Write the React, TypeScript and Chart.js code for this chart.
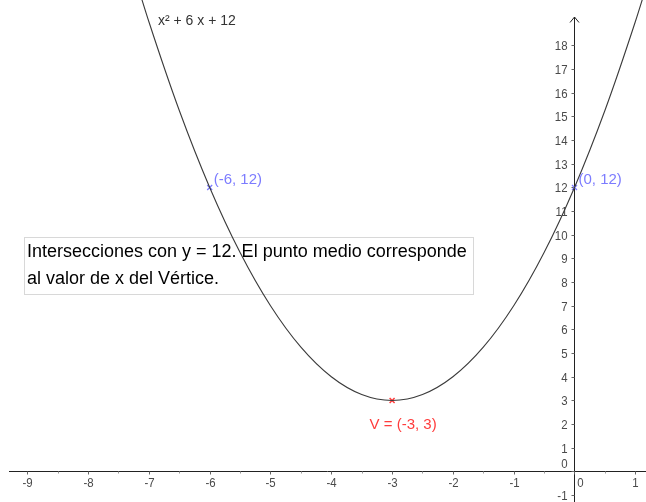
import React, { useEffect, useRef } from "react";
import { Chart, registerables } from "chart.js";

Chart.register(...registerables);

// Sampled points of f(x) = x² + 6x + 12
const curveX = [-7.2, -7, -6.5, -6, -5.5, -5, -4.5, -4, -3.5, -3, -2.5, -2, -1.5, -1, -0.5, 0, 0.5, 1, 1.2];
const curveY = [20.64, 19, 15.25, 12, 9.25, 7, 5.25, 4, 3.25, 3, 3.25, 4, 5.25, 7, 9.25, 12, 15.25, 19, 20.64];

const functionLabel = "x² + 6 x + 12";

// Intersections with y = 12
const intersectX = [-6, 0];
const intersectY = [12, 12];
const intersectLabels = ["(-6, 12)", "(0, 12)"];

// Vertex
const vertexX = [-3];
const vertexY = [3];
const vertexLabels = ["V = (-3, 3)"];

const xTicks = [-9, -8, -7, -6, -5, -4, -3, -2, -1, 0, 1];
const yTicks = [-1, 0, 1, 2, 3, 4, 5, 6, 7, 8, 9, 10, 11, 12, 13, 14, 15, 16, 17, 18];

const noteLines = [
  "Intersecciones con y = 12. El punto medio corresponde",
  "al valor de x del Vértice.",
];

const W = 646;
const H = 502;
const FONT = "'Liberation Sans', Arial, sans-serif";
const BLUE = "#7c7cff";
const RED = "#ff3c3c";

// draws a tick label slightly condensed horizontally
function tickText(ctx: CanvasRenderingContext2D, s: string, x: number, y: number) {
  ctx.save();
  ctx.translate(x, y);
  ctx.scale(0.88, 1);
  ctx.fillText(s, 0, 0);
  ctx.restore();
}

const axesPlugin = {
  id: "geoAxes",
  beforeDatasetsDraw(chart: any) {
    const ctx = chart.ctx as CanvasRenderingContext2D;
    const xs = chart.scales.x;
    const ys = chart.scales.y;
    const ox = Math.round(xs.getPixelForValue(0)) + 0.5;
    const oy = Math.round(ys.getPixelForValue(0)) + 0.5;
    ctx.save();

    // note box
    ctx.fillStyle = "rgba(255,255,255,0.85)";
    ctx.fillRect(24, 237, 449, 57);
    ctx.strokeStyle = "#d8d8d8";
    ctx.lineWidth = 1;
    ctx.strokeRect(24.5, 237.5, 449, 57);
    ctx.fillStyle = "#000";
    ctx.font = `18px ${FONT}`;
    ctx.textAlign = "left";
    ctx.textBaseline = "alphabetic";
    ctx.fillText(noteLines[0], 27, 257);
    ctx.fillText(noteLines[1], 27, 284);

    // axes
    ctx.strokeStyle = "#222";
    ctx.lineWidth = 1;
    ctx.beginPath();
    ctx.moveTo(9, oy);
    ctx.lineTo(W, oy);
    ctx.moveTo(ox, 17);
    ctx.lineTo(ox, H);
    ctx.stroke();
    // arrow on the y axis
    ctx.beginPath();
    ctx.moveTo(ox - 4.5, 22.5);
    ctx.lineTo(ox, 17);
    ctx.lineTo(ox + 4.5, 22.5);
    ctx.stroke();

    ctx.font = `13px ${FONT}`;
    ctx.fillStyle = "#4a4a4a";
    // x ticks
    ctx.textAlign = "center";
    ctx.textBaseline = "middle";
    xTicks.forEach((t) => {
      const px = Math.round(xs.getPixelForValue(t)) + 0.5;
      ctx.strokeStyle = "#666";
      ctx.beginPath();
      ctx.moveTo(px, oy);
      ctx.lineTo(px, oy + 3);
      ctx.stroke();
      const mx = Math.round(xs.getPixelForValue(t + 0.5)) + 0.5;
      if (t + 0.5 < xs.max) {
        ctx.strokeStyle = "#999";
        ctx.beginPath();
        ctx.moveTo(mx, oy);
        ctx.lineTo(mx, oy + 2);
        ctx.stroke();
      }
      const lx = t === 0 ? px + 6 : px;
      tickText(ctx, String(t), lx, oy + 12);
    });
    // y ticks
    ctx.textAlign = "right";
    yTicks.forEach((t) => {
      const py = Math.round(ys.getPixelForValue(t)) + 0.5;
      ctx.strokeStyle = "#666";
      ctx.beginPath();
      ctx.moveTo(ox - 3, py);
      ctx.lineTo(ox, py);
      ctx.stroke();
      const ly = t === 0 ? py - 7 : py + 1;
      tickText(ctx, String(t), ox - 7, ly);
    });
    ctx.restore();
  },
  afterDatasetsDraw(chart: any) {
    const ctx = chart.ctx as CanvasRenderingContext2D;
    const xs = chart.scales.x;
    const ys = chart.scales.y;
    ctx.save();
    ctx.font = `15px ${FONT}`;
    ctx.textBaseline = "middle";
    ctx.textAlign = "left";
    ctx.fillStyle = BLUE;
    intersectX.forEach((x, i) => {
      const px = xs.getPixelForValue(x);
      const py = ys.getPixelForValue(intersectY[i]);
      ctx.fillText(intersectLabels[i], px + 4, py - 8);
    });
    ctx.fillStyle = RED;
    ctx.textAlign = "center";
    vertexX.forEach((x, i) => {
      const px = xs.getPixelForValue(x);
      const py = ys.getPixelForValue(vertexY[i]);
      ctx.fillText(vertexLabels[i], px + 11, py + 24);
    });
    // function label
    ctx.fillStyle = "#333";
    ctx.textAlign = "left";
    ctx.textBaseline = "alphabetic";
    ctx.font = `14px ${FONT}`;
    ctx.fillText(functionLabel, 158, 25);
    ctx.restore();
  },
};

export default function App() {
  const ref = useRef<HTMLCanvasElement | null>(null);
  useEffect(() => {
    if (!ref.current) return;
    const chart = new Chart(ref.current, {
      type: "scatter",
      data: {
        datasets: [
          {
            data: curveX.map((x, i) => ({ x, y: curveY[i] })),
            showLine: true,
            borderColor: "#3a3a3a",
            borderWidth: 1.1,
            pointRadius: 0,
            cubicInterpolationMode: "monotone",
          },
          {
            data: intersectX.map((x, i) => ({ x, y: intersectY[i] })),
            pointStyle: "crossRot",
            pointRadius: 3.5,
            borderColor: BLUE,
            borderWidth: 1.3,
          },
          {
            data: vertexX.map((x, i) => ({ x, y: vertexY[i] })),
            pointStyle: "crossRot",
            pointRadius: 3.5,
            borderColor: RED,
            borderWidth: 1.5,
          },
        ],
      },
      options: {
        animation: false,
        responsive: false,
        events: [],
        layout: { padding: 0, autoPadding: false },
        plugins: { legend: { display: false }, tooltip: { enabled: false } },
        scales: {
          x: { type: "linear", min: -9.449, max: 1.176, display: false },
          y: { type: "linear", min: -1.29, max: 19.92, display: false },
        },
      },
      plugins: [axesPlugin],
    });
    return () => chart.destroy();
  }, []);
  return (
    <div style={{ position: "fixed", left: 0, top: 0, width: W, height: H, background: "#fff" }}>
      <canvas ref={ref} width={W} height={H} style={{ display: "block", width: W, height: H }} />
    </div>
  );
}
